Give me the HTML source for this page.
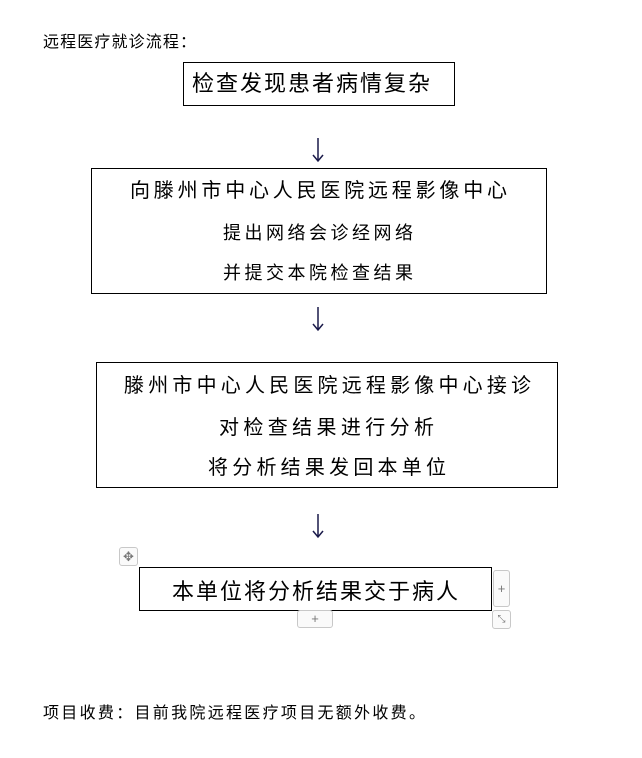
<!DOCTYPE html>
<html><head><meta charset="utf-8"><style>
body{margin:0;width:642px;height:758px;background:#fff;position:relative;overflow:hidden;font-family:"Liberation Sans","Noto Sans CJK SC",sans-serif;color:#000}
.h{position:absolute;border:1px solid #c8c8c8;border-radius:3px;background:#fafafa;box-sizing:border-box;color:#777;font-size:13px;text-align:center}
svg{position:absolute;left:0;top:0}
text{font-family:"Liberation Sans","Noto Sans CJK SC",sans-serif;fill:#000}
</style></head><body>
<svg width="642" height="758">
<g fill="none" stroke="#000" stroke-width="1">
<rect x="183.5" y="62.5" width="271" height="43"/>
<rect x="91.5" y="168.5" width="455" height="125"/>
<rect x="96.5" y="362.5" width="461" height="125"/>
<rect x="139.5" y="567.5" width="352" height="43"/>
</g>
<g stroke="#1a1a4a" stroke-width="1.5" fill="none">
<path d="M318 138V161M313 155L318 161L323 155"/>
<path d="M318 307V330M313 324L318 330L323 324"/>
<path d="M318 514V537M313 531L318 537L323 531"/>
</g>
<text x="43" y="47" font-size="16" textLength="153" lengthAdjust="spacing">远程医疗就诊流程：</text>
<text x="192" y="91" font-size="22" textLength="238" lengthAdjust="spacing">检查发现患者病情复杂</text>
<text x="130" y="197" font-size="20" textLength="377" lengthAdjust="spacing">向滕州市中心人民医院远程影像中心</text>
<text x="223" y="239" font-size="18" textLength="190" lengthAdjust="spacing">提出网络会诊经网络</text>
<text x="223" y="279" font-size="18" textLength="190" lengthAdjust="spacing">并提交本院检查结果</text>
<text x="124" y="392" font-size="20" textLength="407" lengthAdjust="spacing">滕州市中心人民医院远程影像中心接诊</text>
<text x="219" y="434" font-size="20" textLength="215" lengthAdjust="spacing">对检查结果进行分析</text>
<text x="208" y="474" font-size="20" textLength="238" lengthAdjust="spacing">将分析结果发回本单位</text>
<text x="172" y="599" font-size="22" textLength="286" lengthAdjust="spacing">本单位将分析结果交于病人</text>
<text x="43" y="718" font-size="16" textLength="382" lengthAdjust="spacing">项目收费：目前我院远程医疗项目无额外收费。</text>
</svg>
<div class="h" style="left:119px;top:547px;width:19px;height:19px;line-height:17px">✥</div>
<div class="h" style="left:493px;top:570px;width:17px;height:37px;line-height:35px">+</div>
<div class="h" style="left:297px;top:610px;width:36px;height:18px;line-height:16px">+</div>
<div class="h" style="left:492px;top:610px;width:19px;height:19px;line-height:17px;font-size:10px">⤡</div>
</body></html>
